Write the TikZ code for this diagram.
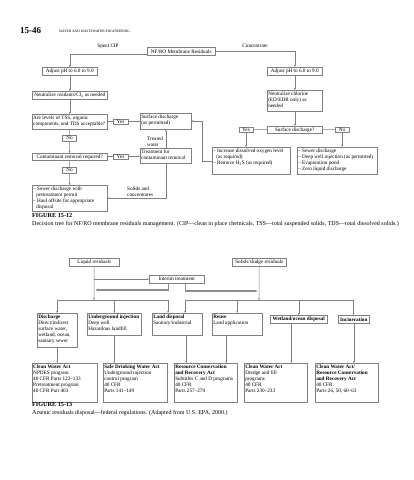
\documentclass[tikz,border=0pt]{standalone}
\usepackage{fontspec}
\setmainfont{Liberation Serif}
\usetikzlibrary{arrows.meta}
\newcommand\fs{\fontsize{5.2}{6}\selectfont}
\newcommand\pb[3]{\parbox[c][#2][t]{#1}{\raggedright\strut#3}}
\definecolor{lc}{gray}{0.5}
\tikzset{
  bx/.style={draw=lc, line width=0.5pt, inner xsep=1pt, inner ysep=0.8pt, font=\fs, anchor=north west, align=center},
  sb/.style={draw=lc, line width=0.5pt, inner sep=0pt, font=\fs, anchor=center},
  txt/.style={inner sep=0pt, font=\fs},
  ln/.style={draw=lc, line width=0.5pt},
  ar/.style={ln, -{Stealth[length=2.2pt,width=1.8pt]}},
  thk/.style={draw=black!45, line width=1.1pt, -{Stealth[length=2.6pt,width=2.4pt]}},
  captxt/.style={anchor=north west, inner sep=0pt, font=\fontsize{6}{7}\selectfont},
  capbold/.style={anchor=north west, inner sep=0pt, font=\bfseries\fontsize{6.2}{7}\selectfont},
}
\begin{document}
\begin{tikzpicture}[x=1pt,y=-1pt]
\useasboundingbox[fill=white] (0,0) rectangle (413,480);
% header
\node[anchor=west, inner sep=0pt, font=\bfseries\fontsize{9}{10}\selectfont] (pg) at (20,31) {15-46};
\node[anchor=west, inner sep=0pt, font=\fontsize{3.6}{4}\selectfont] (hd) at (59,31.5) {WATER AND WASTEWATER ENGINEERING};

% ---------------- Figure 15-12
\node[bx, minimum width=68pt, minimum height=8pt] (nfro) at (147,47) {NF/RO Membrane Residuals};
\node[txt] (spent) at (108,46) {Spent CIP};
\node[txt] (conc) at (255,46) {Concentrate};

\node[bx, minimum width=55pt, minimum height=8pt] (adjL) at (42,67) {Adjust pH to 6.0 to 9.0};
\node[bx, minimum width=75pt, minimum height=8pt] (neutL) at (32,91) {Neutralize oxidants/Cl\textsubscript{2} as needed};
\node[bx, inner ysep=1pt] (areL) at (32,114) {\pb{73pt}{13pt}{Are levels of TSS, organic\\components, and TDS acceptable?}};
\node[sb, minimum width=15pt, minimum height=5.5pt] (yes1) at (120.5,121.5) {Yes};
\node[bx, inner ysep=1pt] (surf) at (140,113) {\pb{49pt}{14pt}{Surface discharge\\(as permitted)}};
\node[sb, minimum width=14pt, minimum height=6pt] (no1) at (69.5,138) {No};
\node[txt, anchor=north west, align=left] (treated) at (147,137) {Treated\\water};
\node[bx, minimum width=75pt, minimum height=7pt] (contam) at (32,153) {Contaminant removal required?};
\node[sb, minimum width=15pt, minimum height=5.5pt] (yes2) at (120.5,156.5) {Yes};
\node[bx, inner ysep=1pt] (treat) at (140,148) {\pb{49pt}{13pt}{Treatment for\\contaminant removal}};
\node[sb, minimum width=14pt, minimum height=6pt] (no2) at (69.5,170) {No};
\node[bx, inner ysep=1pt] (final) at (32,185) {\pb{73pt}{24pt}{-- Sewer discharge with\\\hspace*{3pt}pretreatment permit\\-- Haul offsite for appropriate\\\hspace*{3pt}disposal}};
\node[txt, anchor=north west, align=left] (solids) at (127,187) {Solids and\\concentrates};

\node[bx, minimum width=55pt, minimum height=8pt] (adjR) at (267,67) {Adjust pH to 6.0 to 9.0};
\node[bx, inner ysep=1pt] (neutR) at (267,90) {\pb{53pt}{19pt}{Neutralize chlorine\\(ED/EDR only) as\\needed}};
\node[bx, minimum width=55pt, minimum height=7pt] (surfq) at (267,126) {Surface discharge?};
\node[sb, minimum width=14pt, minimum height=5.5pt] (yesR) at (246,129.5) {Yes};
\node[sb, minimum width=14pt, minimum height=5.5pt] (noR) at (342,129.5) {No};
\node[bx, inner ysep=1pt] (incDO) at (212,147) {\pb{76pt}{25pt}{-- Increase dissolved oxygen level\\\hspace*{3pt}(as required)\\-- Remove H\textsubscript{2}S (as required)}};
\node[bx, inner ysep=1pt] (sewer) at (297,147) {\pb{78pt}{25pt}{-- Sewer discharge\\-- Deep well injection (as permitted)\\-- Evaporation pond\\-- Zero liquid discharge}};

% connectors 15-12
\draw[ar] ([yshift=-2.5pt]nfro.west) -| (adjL.north);
\draw[ar] (nfro.east) -| (adjR.north);
\draw[ar] (adjL) -- (neutL);
\draw[ar] (neutL) -- (areL);
\draw[ln] (areL.east |- yes1.west) -- (yes1.west);
\draw[ar] (yes1.east) -- (yes1.east -| surf.west);
\draw[ln] (areL) -- (no1);
\draw[ar] (no1) -- (contam);
\draw[ln] (contam.east |- yes2.west) -- (yes2.west);
\draw[ar] (yes2.east) -- (yes2.east -| treat.west);
\draw[ln] (contam) -- (no2);
\draw[ar] (no2) -- (final);
\draw[ar] (treat) -- (surf);
\draw[ar] (treat.south) |- (final.east);
\coordinate (rt) at (202,121);
\draw[ar] (incDO.west) -| (rt) -- (rt -| surf.east);
\draw[ar] (adjR) -- (neutR);
\draw[ar] (neutR) -- (surfq);
\draw[ln] (surfq.west) -- (yesR.east);
\draw[ln] (surfq.east) -- (noR.west);
\draw[ar] (yesR.south) -- (yesR.south |- incDO.north);
\draw[ar] (noR.south) -- (noR.south |- sewer.north);

\node[capbold] (f12) at (32,213) {FIGURE 15-12};
\node[captxt] (c12) at (32,221) {Decision tree for NF/RO membrane residuals management. (CIP---clean in place chemicals, TSS---total suspended solids, TDS---total dissolved solids.)};

% ---------------- Figure 15-13
\node[bx, minimum width=50pt, minimum height=8pt] (liq) at (69,258) {Liquid residuals};
\node[bx, minimum width=54pt, minimum height=8pt] (solid) at (232,258) {Solids/sludge residuals};
\node[bx, minimum width=55pt, minimum height=8pt] (interim) at (149,275) {Interim treatment};

\node[bx, inner ysep=1pt] (disch) at (37,313) {\pb{38pt}{32pt}{\textbf{Discharge}\\Direct/indirect\\surface water,\\wetland, ocean,\\sanitary sewer}};
\node[bx, inner ysep=1pt] (ugi) at (87,313) {\pb{52pt}{20pt}{\textbf{Underground injection}\\Deep well\\Hazardous landfill}};
\node[bx, inner ysep=1pt] (land) at (152,313) {\pb{48pt}{20pt}{\textbf{Land disposal}\\Sanitary/industrial}};
\node[bx, inner ysep=1pt] (reuse) at (212,313) {\pb{48pt}{20pt}{\textbf{Reuse}\\Land application}};
\node[bx, minimum width=57pt, minimum height=8pt, font=\fs\bfseries] (wet) at (270,315) {Wetland/ocean disposal};
\node[bx, minimum width=31pt, minimum height=8pt, font=\fs\bfseries] (incin) at (338,315) {Incineration};

\node[bx, inner ysep=1pt] (cwa1) at (32,363) {\pb{63pt}{37pt}{\textbf{Clean Water Act}\\NPDES program\\40 CFR Parts 122--133\\Pretreatment program\\40 CFR Part 403}};
\node[bx, inner ysep=1pt] (sdwa) at (103,363) {\pb{62pt}{37pt}{\textbf{Safe Drinking Water Act}\\Underground injection\\control program\\40 CFR\\Parts 141--149}};
\node[bx, inner ysep=1pt] (rcra) at (174,363) {\pb{61pt}{37pt}{\textbf{Resource Conservation}\\\textbf{and Recovery Act}\\Subtitles C and D programs\\40 CFR\\Parts 257--270}};
\node[bx, inner ysep=1pt] (cwa2) at (244,363) {\pb{61pt}{37pt}{\textbf{Clean Water Act}\\Dredge and fill\\programs\\40 CFR\\Parts 230--233}};
\node[bx, inner ysep=1pt] (caa) at (315,363) {\pb{61pt}{37pt}{\textbf{Clean Water Act/}\\\textbf{Resource Conservation}\\\textbf{and Recovery Act}\\40 CFR\\Parts 26, 50, 60--63}};

% connectors 15-13
\coordinate (lhit) at (94,300);
\coordinate (dl) at (57,300);
\coordinate (dr) at (168,300);
\coordinate (el) at (185,300);
\coordinate (er) at (353.5,300);
\coordinate (shit) at (259,300);
\draw[ar] (liq.south) -- (lhit);
\draw[ar] (liq.south |- interim.west) -- (interim.west);
\draw[ar] (solid.south) -- (shit);
\draw[thk] ([xshift=-8.5pt]interim.south) |- (95.5,290);
\draw[thk] ([xshift=8.5pt]interim.south) |- (257.5,291);
\draw[ln] (dl) -- (dr);
\draw[ln] (el) -- (er);
\draw[ar] (dl) -- (dl |- disch.north);
\draw[ar] (ugi.north |- dl) -- (ugi.north);
\draw[ar] (dr) -- (dr |- land.north);
\draw[ar] (el) -- (el |- land.north);
\draw[ar] (reuse.north |- el) -- (reuse.north);
\draw[ar] (wet.north |- el) -- (wet.north);
\draw[ar] (er) -- (er |- incin.north);

\draw[ar] (disch.south) -- (disch.south |- cwa1.north);
\draw[ar] (ugi.south) -- (ugi.south |- sdwa.north);
\draw[ar] ([xshift=9pt]land.south) -- ([xshift=9pt]land.south |- rcra.north);
\draw[ar] ([xshift=-11pt]reuse.south) -- ([xshift=-11pt]reuse.south |- rcra.north);
\draw[ar] ([xshift=-7.5pt]wet.south) -- ([xshift=-7.5pt]wet.south |- cwa2.north);
\draw[ar] (incin.south) -- (incin.south |- caa.north);

\node[capbold] (f13) at (32,402) {FIGURE 15-13};
\node[captxt] (c13) at (32,410) {Arsenic residuals disposal---federal regulations. (Adapted from U.S. EPA, 2000.)};
\end{tikzpicture}
\end{document}
